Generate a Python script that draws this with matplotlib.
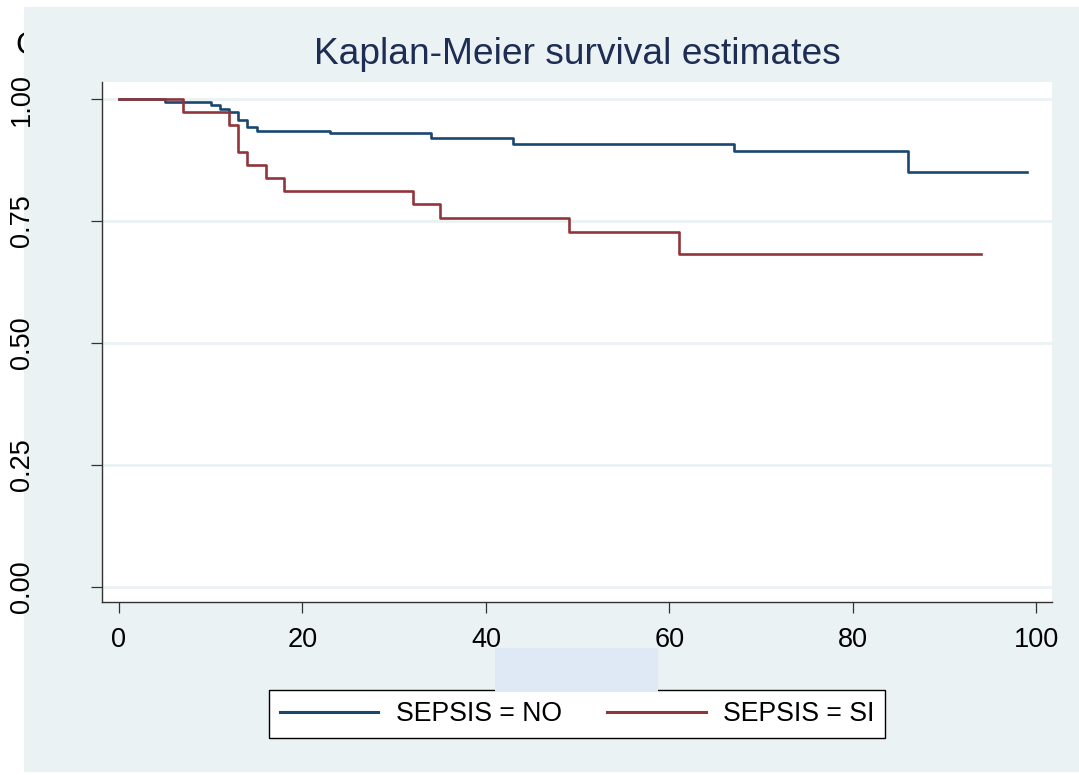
import matplotlib
matplotlib.use("Agg")
import matplotlib.pyplot as plt
from matplotlib.patches import Rectangle

plt.rcParams['font.family'] = ['Liberation Sans', 'DejaVu Sans']

# Kaplan-Meier step data (analysis time, survival estimate)
t_no = [0, 5, 10, 11, 12, 13, 14, 15, 23, 34, 43, 67, 86]
s_no = [1.000, 0.993, 0.987, 0.979, 0.973, 0.958, 0.943, 0.935, 0.930, 0.921, 0.907, 0.893, 0.850]
end_no = 99

t_si = [0, 7, 12, 13, 14, 16, 18, 32, 35, 49, 61]
s_si = [1.000, 0.973, 0.946, 0.892, 0.865, 0.838, 0.811, 0.784, 0.757, 0.727, 0.682]
end_si = 94

labels = ["SEPSIS = NO", "SEPSIS = SI"]
xticks = [0, 20, 40, 60, 80, 100]
yticks = [0.00, 0.25, 0.50, 0.75, 1.00]

W, H = 1079, 775
bg = "#eaf2f3"
navy = "#1a476f"
maroon = "#90353b"

fig = plt.figure(figsize=(W / 100, H / 100), dpi=100)
fig.patch.set_facecolor("white")

# stray glyph of the clipped y title, partly hidden by the graph region
fig.text(15 / W, 1 - 31 / H, "C", fontsize=23, va="top", ha="left", zorder=-2)
fig.patches.append(Rectangle((24 / W, 3 / H), 1 - 24 / W, (772 - 7) / H,
                             transform=fig.transFigure, facecolor=bg,
                             edgecolor="none", zorder=-1))

ax = fig.add_axes([102 / W, 1 - 602 / H, (1052 - 102) / W, (602 - 82) / H])
ax.set_facecolor("white")

ax.step(t_no + [end_no], s_no + [s_no[-1]], where="post", color=navy, lw=1.9, label=labels[0])
ax.step(t_si + [end_si], s_si + [s_si[-1]], where="post", color=maroon, lw=1.9, label=labels[1])

ax.set_xlim(-1.85, 101.7)
ax.set_ylim(-0.031, 1.035)
ax.set_xticks(xticks)
ax.set_yticks(yticks)
ax.set_yticklabels([f"{v:.2f}" for v in yticks], rotation=90, va="center")
ax.grid(axis="y", color=bg, lw=2)
ax.set_axisbelow(True)

for side in ("top", "right"):
    ax.spines[side].set_visible(False)
for side in ("left", "bottom"):
    ax.spines[side].set_color("#333333")
    ax.spines[side].set_linewidth(1.0)
ax.tick_params(axis="both", length=8, width=0.9, color="#333333", labelsize=19.5)
ax.tick_params(axis="y", pad=40)
ax.tick_params(axis="x", pad=10)

ax.set_title("Kaplan-Meier survival estimates", fontsize=26.7, color="#1e2d53", pad=13)

leg = ax.legend(loc="center", bbox_to_anchor=(577 / W, 1 - 714 / H),
                bbox_transform=fig.transFigure, ncol=2, fontsize=19.2,
                frameon=True, fancybox=False, edgecolor="black",
                facecolor="white", framealpha=1,
                handlelength=3.7, handletextpad=0.65, columnspacing=1.7,
                borderpad=0.4, borderaxespad=0)
leg.get_frame().set_linewidth(1.0)
for line in leg.get_lines():
    line.set_linewidth(2.2)

# pale placeholder box for the empty x title
fig.patches.append(Rectangle((495 / W, 1 - 692 / H), (658 - 495) / W, (692 - 648) / H,
                             transform=fig.transFigure, facecolor="#dee9f5",
                             edgecolor="none", zorder=1))

fig.savefig("out.png", dpi=100, facecolor=fig.get_facecolor())
